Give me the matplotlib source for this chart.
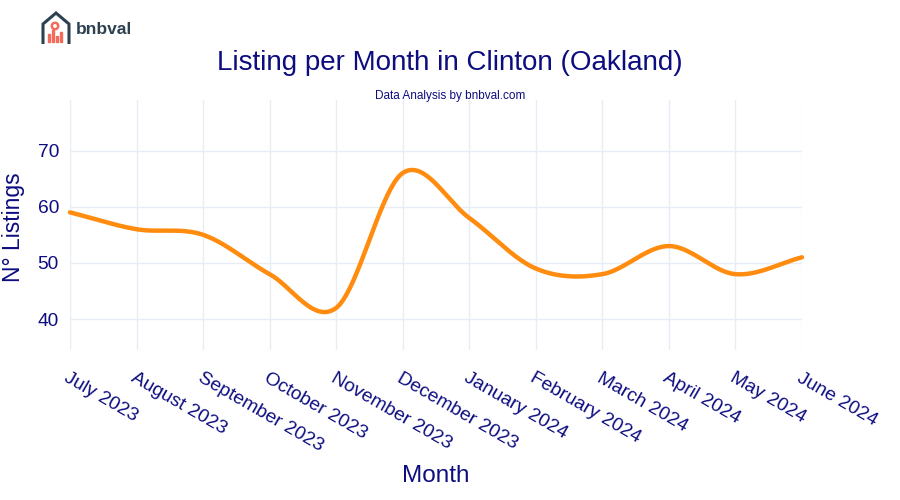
import numpy as np
import matplotlib.pyplot as plt
from matplotlib.patches import Polygon, Rectangle, Circle

plt.rcParams['font.family'] = ['Liberation Sans', 'DejaVu Sans']

months = ['July 2023', 'August 2023', 'September 2023', 'October 2023',
          'November 2023', 'December 2023', 'January 2024', 'February 2024',
          'March 2024', 'April 2024', 'May 2024', 'June 2024']
listings = [59, 56, 55, 48, 42, 66, 58, 49, 48, 53, 48, 51]

navy = '#0d0d80'
grid_col = '#e8ecf4'


def smooth(x, y, n=40, t=0.5):
    # cardinal spline through the points (like plotly's spline shape)
    x = np.asarray(x, float)
    y = np.asarray(y, float)
    px = np.concatenate([[2 * x[0] - x[1]], x, [2 * x[-1] - x[-2]]])
    py = np.concatenate([[2 * y[0] - y[1]], y, [2 * y[-1] - y[-2]]])
    xs, ys = [], []
    s = np.linspace(0, 1, n)
    for i in range(1, len(px) - 2):
        for p, out in ((px, xs), (py, ys)):
            p0, p1, p2, p3 = p[i - 1], p[i], p[i + 1], p[i + 2]
            m1 = t * (p2 - p0)
            m2 = t * (p3 - p1)
            h00 = 2 * s**3 - 3 * s**2 + 1
            h10 = s**3 - 2 * s**2 + s
            h01 = -2 * s**3 + 3 * s**2
            h11 = s**3 - s**2
            out.extend(h00 * p1 + h10 * m1 + h01 * p2 + h11 * m2)
    return np.array(xs), np.array(ys)


fig = plt.figure(figsize=(9, 5), dpi=100)
ax = fig.add_axes([70 / 900, 0.30, 732 / 900, 0.50])

xi = np.arange(len(months))
sx, sy = smooth(xi, listings)
ax.plot(sx, sy, color='#ff8c0f', lw=3.2, solid_capstyle='round', zorder=3, clip_on=False)

ax.set_xlim(0, len(months) - 1)
ax.set_ylim(34.5, 79)
ax.set_yticks([40, 50, 60, 70])
ax.set_xticks(xi)
ax.set_xticklabels(months, rotation=-30, ha='left', va='top', rotation_mode='anchor')
ax.tick_params(axis='both', length=0, labelsize=13.8, labelcolor=navy)
ax.tick_params(axis='x', pad=14)
ax.tick_params(axis='y', pad=8)
ax.grid(True, color=grid_col, lw=1)
for sp in ax.spines.values():
    sp.set_visible(False)

ax.set_ylabel('N° Listings', fontsize=16.5, color=navy)
ax.set_xlabel('Month', fontsize=17.5, color=navy)
ax.xaxis.set_label_coords(0.5, -0.46)
ax.yaxis.set_label_coords(-0.062, 0.49)

fig.text(0.5, 1 - 63 / 500, 'Listing per Month in Clinton (Oakland)', ha='center', va='center',
         fontsize=20, color=navy)
fig.text(0.5, 1 - 96 / 500, 'Data Analysis by bnbval.com', ha='center', va='center',
         fontsize=8.5, color=navy)

# logo
lax = fig.add_axes([40 / 900, 1 - 46 / 500, 32 / 900, 36 / 500])
lax.set_xlim(0, 32)
lax.set_ylim(0, 36)
lax.axis('off')
lax.add_patch(Polygon([[3, 2], [3, 22], [16, 33], [29, 22], [29, 2]], closed=False,
                      fill=False, ec='#2c4050', lw=2.2, joinstyle='miter'))
for bx, bh in [(8, 8), (12, 12), (16, 6), (20, 10)]:
    lax.add_patch(Rectangle((bx, 4), 2.4, bh, color='#f26b5b'))
lax.add_patch(Circle((15, 20), 3.2, fill=False, ec='#f26b5b', lw=1.8))
fig.text(76 / 900, 1 - 30 / 500, 'bnbval', ha='left', va='center', fontsize=12.5,
         fontweight='bold', color='#2c4050')

fig.savefig('out.png', dpi=100, facecolor='white')
